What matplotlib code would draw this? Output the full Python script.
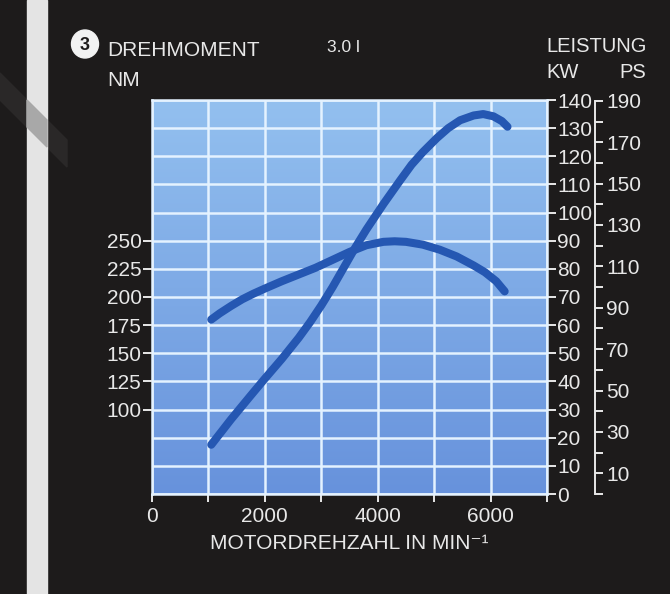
import numpy as np
import matplotlib
matplotlib.use("Agg")
import matplotlib.pyplot as plt
from matplotlib.patches import Rectangle, Polygon, Ellipse
from matplotlib.colors import LinearSegmentedColormap

plt.rcParams['font.family'] = ['Liberation Sans', 'DejaVu Sans']

# data
rpm_torque = [1050, 1200, 1400, 1600, 1800, 2000, 2300, 2600, 2900, 3200, 3500, 3800,
              4100, 4300, 4500, 4800, 5100, 5400, 5700, 5900, 6100, 6250]
torque_nm = [180, 185.5, 192, 198, 203, 207.5, 214, 220, 226, 233, 240, 246,
             249, 249.5, 249, 246.5, 242, 236, 228, 222, 214, 205]

rpm_power = [1050, 1400, 1750, 2000, 2300, 2600, 2800, 3000, 3200, 3400, 3600, 3800,
             4100, 4400, 4600, 4800, 5050, 5250, 5460, 5700, 5870, 6050, 6200, 6300]
power_kw = [17.5, 26.5, 35, 41, 48, 55.5, 61, 67, 73.5, 80.5, 87.5, 94,
            103, 111.5, 117, 121.5, 126.5, 130, 132.8, 134.5, 135, 134.2, 132.5, 130.5]

x_ticks = list(range(0, 7001, 1000))
x_labels = ['0', '', '2000', '', '4000', '', '6000', '']
kw_ticks = list(range(0, 141, 10))
nm_ticks = [100, 125, 150, 175, 200, 225, 250]
ps_ticks = list(range(0, 191, 10))

W, H = 670, 594
def fx(px):
    return px / W
def fy(py):
    return 1 - py / H

txt = '#e8e8e8'
curve = '#2557b2'
gridc = '#e4f2ff'

fig = plt.figure(figsize=(W / 100, H / 100), dpi=100, facecolor='#1d1b1b')

# scan artefacts at the left edge
fig.add_artist(Polygon([(fx(0), fy(73)), (fx(67), fy(140)), (fx(67), fy(167)), (fx(0), fy(100))],
                       closed=True, transform=fig.transFigure, color='#2a2828', zorder=1))
fig.add_artist(Rectangle((fx(27), 0), 20 / W, 1, transform=fig.transFigure,
                         color='#e4e4e4', zorder=2))
fig.add_artist(Polygon([(fx(27), fy(100)), (fx(47), fy(120)), (fx(47), fy(147)), (fx(27), fy(127))],
                       closed=True, transform=fig.transFigure, color='#a8a8a8', zorder=3))

ax = fig.add_axes([fx(152), fy(494), (547 - 152) / W, (494 - 100) / H])
ax.set_xlim(0, 7000)
ax.set_ylim(0, 140)

grad = np.linspace(1, 0, 256).reshape(-1, 1)
cmap = LinearSegmentedColormap.from_list('bg', ['#6792dc', '#93c0ef'])
ax.imshow(grad, cmap=cmap, extent=[0, 7000, 0, 140], aspect='auto', zorder=0)

ax.set_axisbelow(True)
ax.grid(True, color=gridc, linewidth=1.8)
for s in ax.spines.values():
    s.set_color(gridc)
    s.set_linewidth(1.8)

ax.plot(rpm_power, power_kw, color=curve, linewidth=5.8, solid_capstyle='round',
        solid_joinstyle='round', zorder=3)

# torque axis (left), Nm = 25 + 2.5 * kW
axT = ax.twinx()
axT.set_ylim(25, 25 + 2.5 * 140)
for s in axT.spines.values():
    s.set_visible(False)
axT.plot(rpm_torque, torque_nm, color=curve, linewidth=5.8, solid_capstyle='round',
         solid_joinstyle='round', zorder=3)

# PS axis, detached on the right
axP = ax.twinx()
axP.set_ylim(0, 140 * 1.36)
for k, s in axP.spines.items():
    s.set_visible(k == 'right')
axP.spines['right'].set_position(('outward', 34.5))
axP.spines['right'].set_bounds(0, 190)
axP.spines['right'].set_color(txt)
axP.spines['right'].set_linewidth(1.4)
axP.set_yticks(ps_ticks)
axP.set_yticklabels([str(v) if v % 20 == 10 else '' for v in ps_ticks])
axP.tick_params(axis='y', direction='out', length=6, width=1.4, colors=txt,
                labelsize=15, pad=2)

# tick sides (twinx resets them, so set afterwards)
ax.set_xticks(x_ticks)
ax.set_xticklabels(x_labels)
ax.set_yticks(kw_ticks)
ax.yaxis.tick_right()
ax.tick_params(axis='x', direction='out', length=6, width=1.4, colors=txt,
               labelsize=15, pad=3)
ax.tick_params(axis='y', direction='out', length=6.5, width=1.4, colors=txt,
               labelsize=15, pad=1)
ax.set_xlabel('MOTORDREHZAHL IN MIN⁻¹', color=txt, fontsize=15, labelpad=6)

axT.yaxis.tick_left()
axT.set_yticks(nm_ticks)
axT.tick_params(axis='y', direction='out', length=6.5, width=1.4, colors=txt,
                labelsize=15, pad=1)

# header texts
fig.add_artist(Ellipse((fx(85), fy(44)), 27 / W, 28 / H, transform=fig.transFigure,
                       color='#f2f2f2', zorder=5))
fig.text(fx(85), fy(45), '3', ha='center', va='center', fontsize=13,
         fontweight='bold', color='#1d1b1b', zorder=6)
fig.text(fx(107), fy(51), 'DREHMOMENT', ha='left', va='center', fontsize=15, color=txt)
fig.text(fx(107), fy(80), 'NM', ha='left', va='center', fontsize=15, color=txt)
fig.text(fx(327), fy(48), '3.0 l', ha='left', va='center', fontsize=12.5, color=txt)
fig.text(fx(546), fy(46), 'LEISTUNG', ha='left', va='center', fontsize=14.5, color=txt)
fig.text(fx(546), fy(73), 'KW', ha='left', va='center', fontsize=14.5, color=txt)
fig.text(fx(646), fy(73), 'PS', ha='right', va='center', fontsize=14.5, color=txt)

fig.savefig('out.png', dpi=100, facecolor=fig.get_facecolor())
